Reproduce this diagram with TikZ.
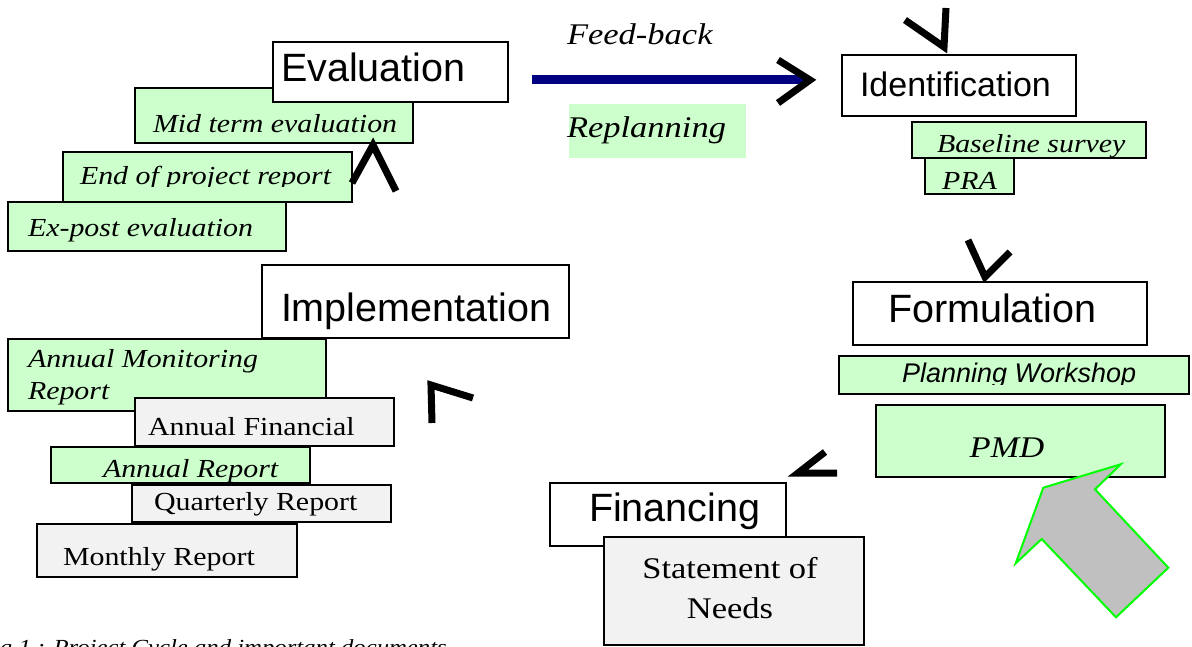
\documentclass[tikz,border=0pt]{standalone}
\usepackage{fontspec}
\usepackage{graphicx}
\setmainfont{Liberation Serif}
\newfontfamily\arial{Liberation Sans}

\definecolor{docgreen}{HTML}{CCFFCC}
\definecolor{docgrey}{HTML}{F2F2F2}
\definecolor{fbnavy}{HTML}{000080}
\definecolor{arrowgrey}{HTML}{C0C0C0}
\definecolor{arrowedge}{HTML}{00FF00}

% serif labels are set slightly wide
\newcommand\wt[1]{\scalebox{1.15}[1]{#1}}
\newcommand\fs[1]{\fontsize{#1}{#1}\selectfont}
% rectangle node from its top-left to bottom-right corner
\newcommand\docbox[6]{%
  \node[#2, minimum width=#5pt-#3pt, minimum height=#6pt-#4pt] (#1) at (#3,#4) {};}

\tikzset{
  boxbase/.style={draw=black, line width=1.4pt, inner sep=0pt, outer sep=0pt, anchor=north west},
  stage/.style={boxbase, fill=white},
  greendoc/.style={boxbase, fill=docgreen},
  greydoc/.style={boxbase, fill=docgrey},
  lbl/.style={anchor=base west, inner sep=0pt, outer sep=0pt},
  clbl/.style={anchor=base, inner sep=0pt, outer sep=0pt},
  stagefont/.style={font=\arial\fs{39.5}},
  docit/.style={font=\itshape\fs{26}},
  docrm/.style={font=\fs{26}},
  chev/.style={draw=black, line width=7pt, line join=miter, line cap=butt},
}

\begin{document}
\begin{tikzpicture}[x=1pt, y=-1pt]
\useasboundingbox (0,0) rectangle (1192,647);
\clip (0,0) rectangle (1192,647);

% ---------- Evaluation ----------
\docbox{mid}{greendoc}{135}{88}{413}{143}
\node[lbl, docit] (mid-t) at (153,133) {\wt{Mid term evaluation}};
\docbox{eval}{stage}{273}{42}{508}{102}
\node[lbl, stagefont] (eval-t) at (281,82) {Evaluation};
\docbox{eop}{greendoc}{63}{152}{352}{202}
\begin{scope}
  \clip (63,150) rectangle (352,187);
  \node[lbl, docit] (eop-t) at (80,185) {\wt{End of project report}};
\end{scope}
\docbox{expost}{greendoc}{8}{202}{286}{251}
\begin{scope}
  \clip (8,200) rectangle (286,242);
  \node[lbl, docit] (expost-t) at (28,237) {\wt{Ex-post evaluation}};
\end{scope}
\draw[chev] (352,183) -- (373,145) -- (396,191);

% ---------- Feed-back ----------
\node[lbl, font=\itshape\fs{30}] (fb-t) at (567,45) {\wt{Feed-back}};
\fill[docgreen] (569,104) rectangle (746,158);
\node[lbl, font=\itshape\fs{30}] (replan-t) at (567,138) {\wt{Replanning}};
\coordinate (fb-start) at (532,79.5);
\coordinate (fb-end) at (806,79.5);
\draw[fbnavy, line width=9pt] (fb-start) -- (fb-end);
\draw[chev] (778,60) -- (810,80) -- (778,103);

% ---------- Identification ----------
\draw[chev] (905,20) -- (944,47) -- (946,8);
\docbox{ident}{stage}{842}{55}{1076}{116}
\node[lbl, font=\arial\fs{34}] (ident-t) at (860,97) {Identification};
\docbox{base}{greendoc}{912}{122}{1146}{158}
\node[lbl, docit] (base-t) at (937,153) {\wt{Baseline survey}};
\docbox{pra}{greendoc}{925}{158}{1014}{194}
\node[lbl, docit] (pra-t) at (942,190) {\wt{PRA}};

% ---------- Formulation ----------
\draw[chev] (968,240) -- (985,277) -- (1010,252);
\docbox{form}{stage}{853}{282}{1147}{345}
\node[lbl, stagefont] (form-t) at (888,323) {Formulation};
\docbox{plan}{greendoc}{839}{356}{1189}{394}
\begin{scope}
  \clip (839,354) rectangle (1189,384);
  \node[lbl, font=\arial\itshape\fs{27}] (plan-t) at (902,382) {Planning Workshop};
\end{scope}
\docbox{pmd}{greendoc}{876}{405}{1165}{477}
\node[clbl, font=\itshape\fs{30}] (pmd-t) at (1007,457) {\wt{PMD}};
\filldraw[fill=arrowgrey, draw=arrowedge, line width=2pt, line join=miter]
  (1120.7,464.3) -- (1095,489.3) -- (1168.3,567.7) -- (1116,617.3)
  -- (1041.7,539) -- (1015.7,563.3) -- (1043.3,487.7) -- cycle;

% ---------- Financing ----------
\draw[chev] (825,452) -- (798,473) -- (837,473);
\docbox{fin}{stage}{550}{483}{786}{546}
\node[lbl, stagefont] (fin-t) at (589,521) {Financing};
\docbox{needs}{greydoc}{604}{537}{864}{645}
\node[clbl, font=\fs{30}] (needs-t1) at (730,578) {\wt{Statement of}};
\node[clbl, font=\fs{30}] (needs-t2) at (730,618) {\wt{Needs}};

% ---------- Implementation ----------
\docbox{impl}{stage}{262}{265}{569}{338}
\node[lbl, stagefont] (impl-t) at (281,321) {Implementation};
\draw[chev] (432,423) -- (431,385) -- (473,398);
\docbox{amr}{greendoc}{8}{339}{326}{411}
\node[lbl, docit] (amr-t1) at (28,367) {\wt{Annual Monitoring}};
\node[lbl, docit] (amr-t2) at (28,399) {\wt{Report}};
\docbox{afin}{greydoc}{135}{398}{394}{446}
\node[lbl, docrm] (afin-t) at (148,435) {\wt{Annual Financial}};
\docbox{arep}{greendoc}{51}{447}{310}{483}
\node[lbl, docit] (arep-t) at (103,477) {\wt{Annual Report}};
\docbox{qrep}{greydoc}{132}{485}{391}{522}
\node[lbl, docrm] (qrep-t) at (154,510) {\wt{Quarterly Report}};
\docbox{mrep}{greydoc}{37}{524}{297}{577}
\node[lbl, docrm] (mrep-t) at (63,565) {\wt{Monthly Report}};

% ---------- caption ----------
\node[lbl, font=\itshape\fs{21.5}] (caption) at (-22,654)
  {\wt{Fig 1 : Project Cycle and important documents}};
\end{tikzpicture}
\end{document}
